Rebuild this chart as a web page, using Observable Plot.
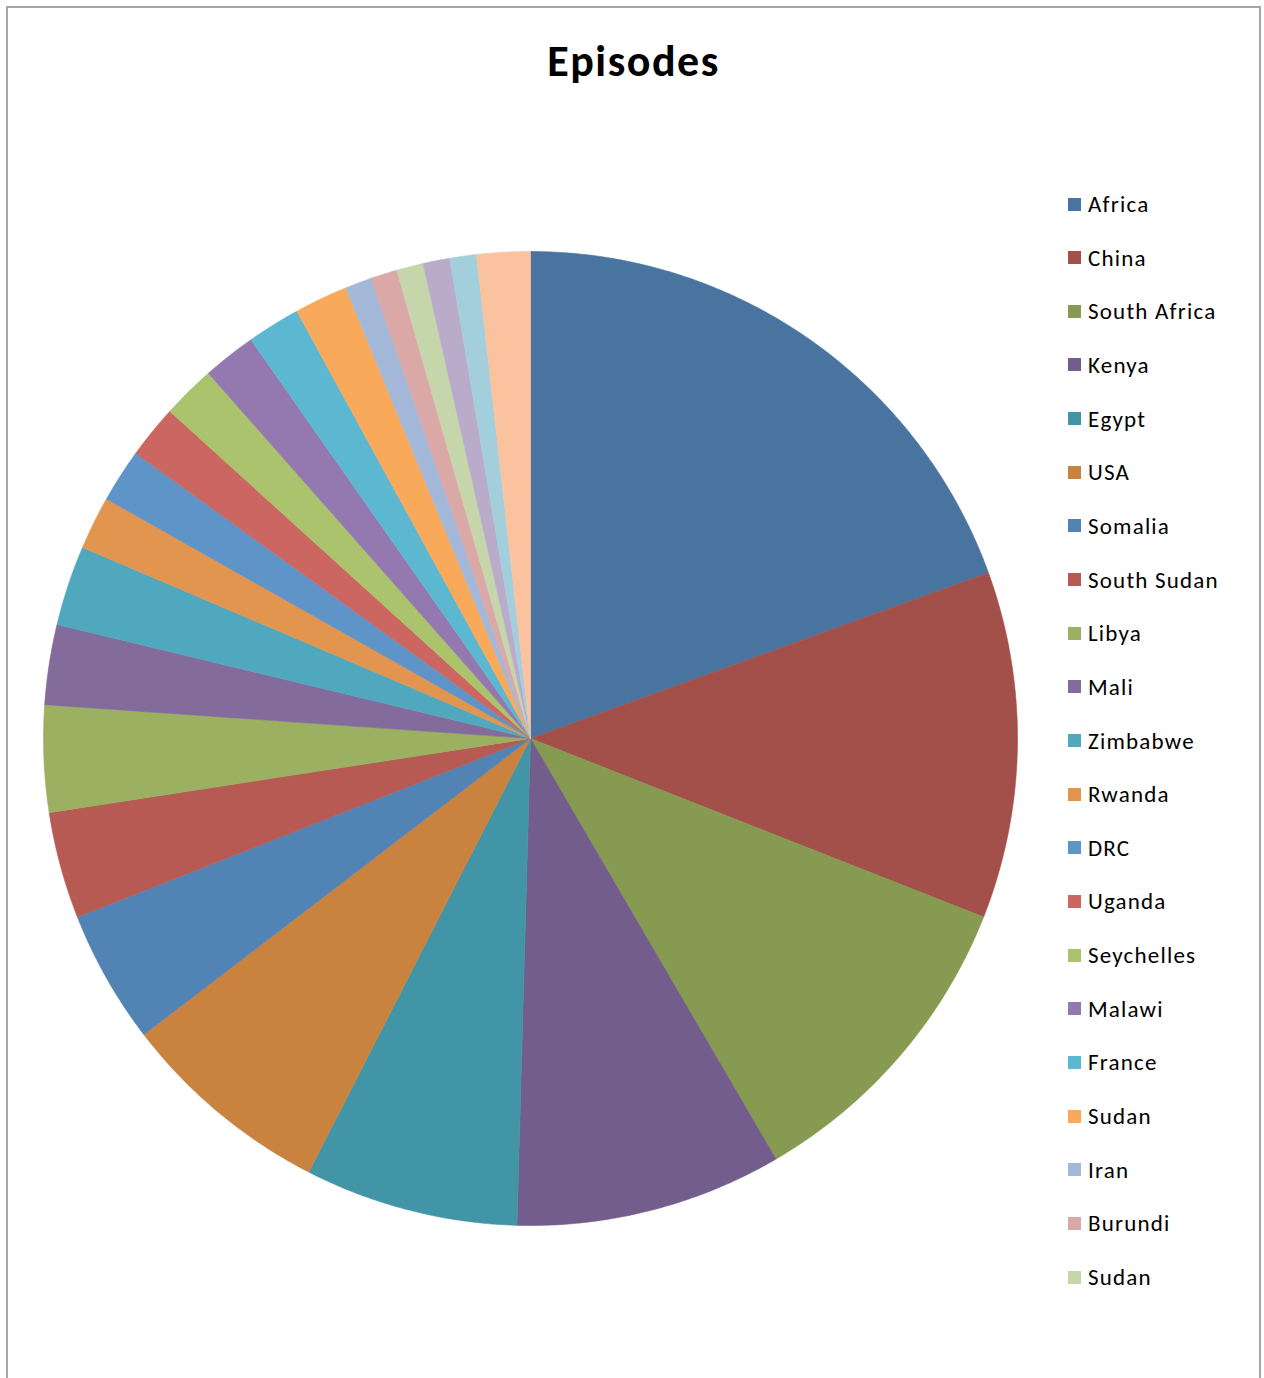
<!DOCTYPE html>
<html>
<head>
<meta charset="utf-8">
<script src="https://cdn.jsdelivr.net/npm/d3@7"></script>
<script src="https://cdn.jsdelivr.net/npm/@observablehq/plot@0.6"></script>
<style>
  html, body { margin: 0; padding: 0; background: #fff; }
  #wrap { position: relative; width: 1264px; height: 1378px; overflow: hidden; font-family: Carlito, Calibri, Lato, sans-serif; }
  #frame { position: absolute; left: 6px; top: 6px; width: 1255px; height: 1400px; border: 2px solid #a6a6a6; box-sizing: border-box; }
  #title { position: absolute; left: 7px; width: 1253px; top: 34px; text-align: center; font-weight: 700; font-size: 44px; letter-spacing: 1.5px; color: #000; }
  #legend { position: absolute; left: 1068px; top: 191px; }
  .row { position: absolute; left: 0; height: 26px; display: flex; align-items: center; white-space: nowrap; font-size: 23px; letter-spacing: 1.2px; color: #000; }
  .sw { width: 13px; height: 13px; margin-right: 7px; }
  #chart { position: absolute; left: 0; top: 0; }
</style>
</head>
<body>
<div id="wrap">
  <div id="chart"></div>
  <div id="frame"></div>
  <div id="title">Episodes</div>
  <div id="legend"></div>
</div>
<script>
// Data
const categories = ["Africa","China","South Africa","Kenya","Egypt","USA","Somalia","South Sudan","Libya","Mali","Zimbabwe","Rwanda","DRC","Uganda","Seychelles","Malawi","France","Sudan","Iran","Burundi","Sudan","Other 1","Other 2","Other 3"];
const values = [22,13,12,10,8,8,5,4,4,3,3,2,2,2,2,2,2,2,1,1,1,1,1,2];
const colors = ["#48749F","#A34F4A","#879A51","#735D8C","#4195A6","#C9833F","#5283B5","#B75A54","#9BB061","#836B9C","#4FA8BE","#E2954E","#5F94C8","#CC6660","#AAC36C","#9479B0","#5BB8D0","#F8A95A","#A4B8DA","#DAA8A6","#C6D6AB","#B9ABC9","#A3CFDD","#FAC29F"];
const legendCount = 21; // legend is cut off after 21 entries in the reference

const keys = categories.map((c, i) => `${i}:${c}`);
const pie = d3.pie().sort(null).value(d => d.value)(categories.map((c, i) => ({key: keys[i], value: values[i]})));

// Build polygon points for each slice in unit coordinates (clockwise from north)
const pts = [];
for (const s of pie) {
  const n = Math.max(2, Math.ceil((s.endAngle - s.startAngle) / (Math.PI / 360)));
  pts.push({key: s.data.key, x: 0, y: 0});
  for (let k = 0; k <= n; k++) {
    const a = s.startAngle + (s.endAngle - s.startAngle) * k / n;
    pts.push({key: s.data.key, x: Math.sin(a), y: Math.cos(a)});
  }
  pts.push({key: s.data.key, x: 0, y: 0});
}

const cx = 530, cy = 738, r = 487;
const chart = Plot.plot({
  width: 1264,
  height: 1378,
  margin: 0,
  x: {domain: [-1, 1], range: [cx - r, cx + r], axis: null},
  y: {domain: [-1, 1], range: [cy + r, cy - r], axis: null},
  color: {type: "ordinal", domain: keys, range: colors},
  marks: [
    Plot.line(pts, {x: "x", y: "y", z: "key", fill: "key", stroke: "key", strokeWidth: 0.6, curve: "linear"})
  ]
});
document.getElementById("chart").appendChild(chart);

// Legend
const legend = document.getElementById("legend");
for (let i = 0; i < legendCount; i++) {
  const row = document.createElement("div");
  row.className = "row";
  row.style.top = (i * 53.65) + "px";
  const sw = document.createElement("div");
  sw.className = "sw";
  sw.style.background = colors[i];
  const t = document.createElement("span");
  t.textContent = categories[i];
  row.appendChild(sw);
  row.appendChild(t);
  legend.appendChild(row);
}
</script>
</body>
</html>
